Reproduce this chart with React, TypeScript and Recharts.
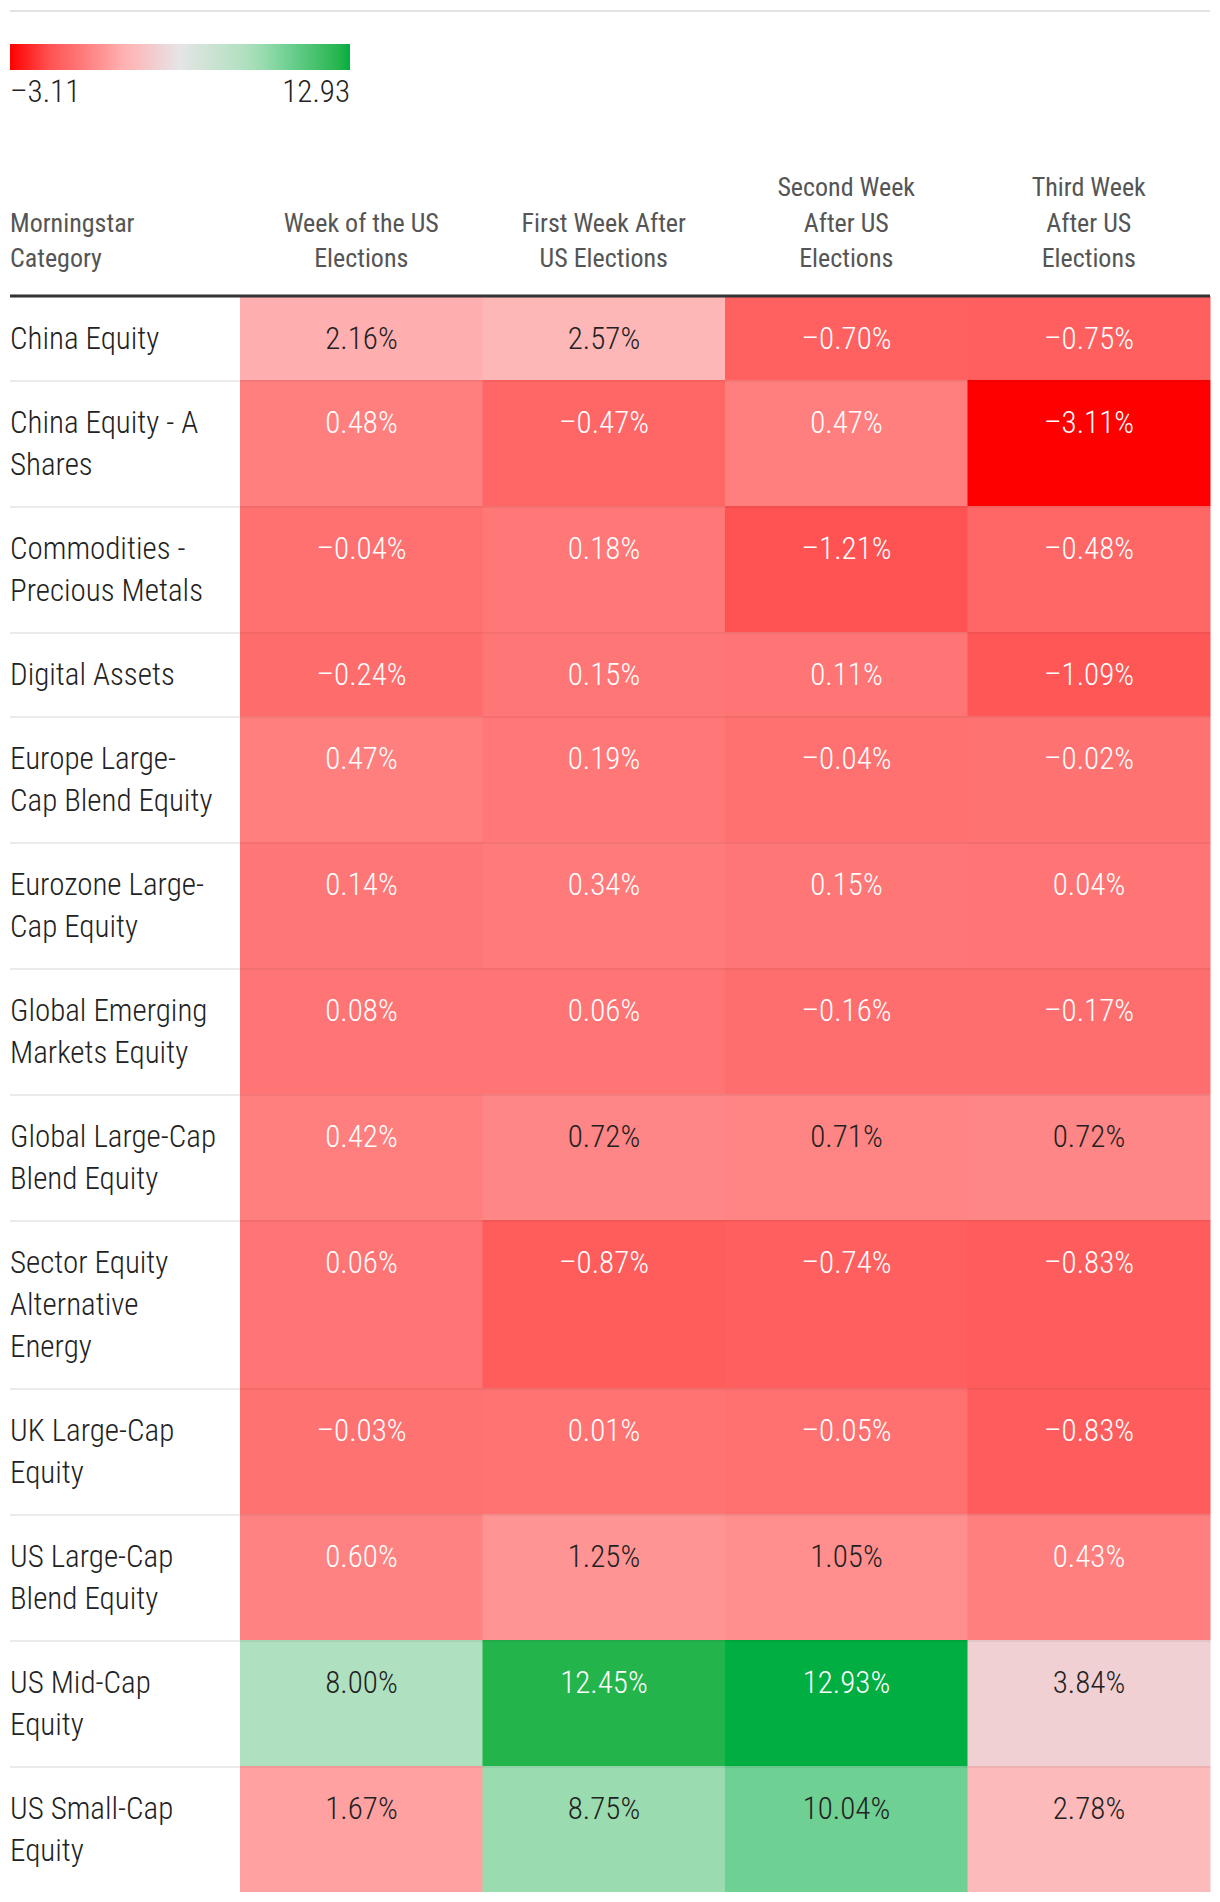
import React from "react";
import { BarChart, Bar, XAxis, YAxis } from "recharts";

// row labels, already wrapped the way the table shows them
const rowLabels: string[][] = [
  ["China Equity"],
  ["China Equity - A", "Shares"],
  ["Commodities -", "Precious Metals"],
  ["Digital Assets"],
  ["Europe Large-", "Cap Blend Equity"],
  ["Eurozone Large-", "Cap Equity"],
  ["Global Emerging", "Markets Equity"],
  ["Global Large-Cap", "Blend Equity"],
  ["Sector Equity", "Alternative", "Energy"],
  ["UK Large-Cap", "Equity"],
  ["US Large-Cap", "Blend Equity"],
  ["US Mid-Cap", "Equity"],
  ["US Small-Cap", "Equity"],
];

const categoryHeader = ["Morningstar", "Category"];
const columnHeaders: string[][] = [
  ["Week of the US", "Elections"],
  ["First Week After", "US Elections"],
  ["Second Week", "After US", "Elections"],
  ["Third Week", "After US", "Elections"],
];

// returns in %, one value per row
const weekOf = [2.16, 0.48, -0.04, -0.24, 0.47, 0.14, 0.08, 0.42, 0.06, -0.03, 0.6, 8.0, 1.67];
const firstWeek = [2.57, -0.47, 0.18, 0.15, 0.19, 0.34, 0.06, 0.72, -0.87, 0.01, 1.25, 12.45, 8.75];
const secondWeek = [-0.7, 0.47, -1.21, 0.11, -0.04, 0.15, -0.16, 0.71, -0.74, -0.05, 1.05, 12.93, 10.04];
const thirdWeek = [-0.75, -3.11, -0.48, -1.09, -0.02, 0.04, -0.17, 0.72, -0.83, -0.83, 0.43, 3.84, 2.78];

const columnValues = [weekOf, firstWeek, secondWeek, thirdWeek];

const FONT = "'Roboto Condensed', 'Liberation Sans Narrow', 'DejaVu Sans Condensed', 'Arial Narrow', sans-serif";
const LINE = 42;
const TEXT = "#222222";

// red -> grey -> green scale, position t in [0, 1]
const colorStops: [number, number[]][] = [
  [0, [255, 0, 0]],
  [0.118, [255, 83, 83]],
  [0.2, [255, 117, 117]],
  [0.27, [255, 147, 147]],
  [0.33, [255, 176, 176]],
  [0.37, [252, 187, 188]],
  [0.433, [240, 208, 211]],
  [0.5, [229, 229, 229]],
  [0.69, [176, 224, 192]],
  [0.74, [154, 220, 176]],
  [0.82, [110, 208, 146]],
  [0.97, [36, 180, 76]],
  [1, [0, 174, 65]],
];

const allValues = columnValues.flat();
const vMin = Math.min(...allValues);
const vMax = Math.max(...allValues);

function rgbAt(t: number): number[] {
  for (let i = 1; i < colorStops.length; i++) {
    const [t1, c1] = colorStops[i];
    const [t0, c0] = colorStops[i - 1];
    if (t <= t1) {
      const f = (t - t0) / (t1 - t0);
      return c0.map((c, k) => Math.round(c + (c1[k] - c) * f));
    }
  }
  return colorStops[colorStops.length - 1][1];
}

const toHex = (c: number[]) => "#" + c.map((x) => x.toString(16).padStart(2, "0")).join("");

function luminance(c: number[]) {
  const lin = c.map((x) => {
    const s = x / 255;
    return s <= 0.04045 ? s / 12.92 : Math.pow((s + 0.055) / 1.055, 2.4);
  });
  return 0.2126 * lin[0] + 0.7152 * lin[1] + 0.0722 * lin[2];
}

const fmt = (v: number) => (v < 0 ? "\u2013" : "") + Math.abs(v).toFixed(2);

// row heights follow the number of label lines
const rowUnits = rowLabels.map((l) => l.length + 1);
const rowStarts = rowUnits.map((_, i) => rowUnits.slice(0, i).reduce((a, b) => a + b, 0));
const totalUnits = rowUnits.reduce((a, b) => a + b, 0);

const tableData = columnHeaders.map((h) => {
  const o: Record<string, any> = { name: h.join(" ") };
  rowUnits.forEach((u, r) => (o["r" + r] = u));
  return o;
});

const cellShape = (r: number) => (p: any) => {
  const v = columnValues[p.index][r];
  const rgb = rgbAt((v - vMin) / (vMax - vMin));
  const top = Math.min(p.y, p.y + p.height);
  const h = Math.abs(p.height);
  const left = Math.min(p.x, p.x + p.width);
  const w = Math.abs(p.width);
  return (
    <g>
      <rect x={left} y={top} width={w} height={h} fill={toHex(rgb)} />
      {r > 0 && <rect x={left} y={top} width={w} height={2} fill="rgba(0,0,0,0.05)" />}
      <text
        x={left + w / 2}
        y={top + 53}
        textAnchor="middle"
        fontFamily={FONT}
        fontSize={31}
        fontWeight={300}
        fill={luminance(rgb) < 0.394 ? "#ffffff" : TEXT}
      >
        {fmt(v)}%
      </text>
    </g>
  );
};

const HeaderTick = (p: any) => {
  const lines = columnHeaders[p.index] || [];
  return (
    <g>
      {lines.map((s, i) => (
        <text
          key={i}
          x={p.x}
          y={p.y - 29 - (lines.length - 1 - i) * 35.5}
          textAnchor="middle"
          fontFamily={FONT}
          fontSize={26}
          fill="#555555"
        >
          {s}
        </text>
      ))}
    </g>
  );
};

const RowTick = (p: any) => {
  const i = rowStarts.indexOf(p.payload.value);
  const left = p.x - 230;
  const lines = rowLabels[i] || [];
  return (
    <g>
      {i === 0 ? (
        <>
          <line x1={left} x2={p.x} y1={p.y} y2={p.y} stroke="#333333" strokeWidth={3} />
          {categoryHeader.map((s, k) => (
            <text
              key={k}
              x={left}
              y={p.y - 29 - (categoryHeader.length - 1 - k) * 35.5}
              fontFamily={FONT}
              fontSize={26}
              fill="#555555"
            >
              {s}
            </text>
          ))}
        </>
      ) : (
        <line x1={left} x2={p.x} y1={p.y + 1} y2={p.y + 1} stroke="#ebebeb" strokeWidth={2} />
      )}
      {lines.map((s, k) => (
        <text
          key={k}
          x={left}
          y={p.y + 53 + k * LINE}
          fontFamily={FONT}
          fontSize={31}
          fontWeight={300}
          fill={TEXT}
        >
          {s}
        </text>
      ))}
    </g>
  );
};

function ScaleLegend() {
  return (
    <svg width={1220} height={120} style={{ position: "absolute", left: 0, top: 0 }}>
      <defs>
        <linearGradient id="heatScale" x1="0" y1="0" x2="1" y2="0">
          {colorStops.map(([t, c], i) => (
            <stop key={i} offset={t} stopColor={toHex(c)} />
          ))}
        </linearGradient>
      </defs>
      <line x1={10} x2={1210} y1={11} y2={11} stroke="#e3e3e3" strokeWidth={2} />
      <rect x={10} y={44} width={340} height={26} fill="url(#heatScale)" />
      <text x={10} y={102} fontFamily={FONT} fontSize={31} fontWeight={300} fill={TEXT}>
        {fmt(vMin)}
      </text>
      <text x={350} y={102} textAnchor="end" fontFamily={FONT} fontSize={31} fontWeight={300} fill={TEXT}>
        {fmt(vMax)}
      </text>
    </svg>
  );
}

export default function App() {
  return (
    <div style={{ position: "relative", width: 1220, height: 1902, margin: -8, background: "#fff" }}>
      <BarChart
        width={1220}
        height={1902}
        data={tableData}
        margin={{ top: 256, right: 10, bottom: 10, left: 10 }}
        barCategoryGap={0}
        barGap={0}
      >
        <XAxis
          dataKey="name"
          orientation="top"
          height={40}
          axisLine={{ stroke: "#333333", strokeWidth: 3 }}
          tickLine={false}
          tickSize={0}
          tickMargin={0}
          interval={0}
          tick={<HeaderTick />}
        />
        <YAxis
          type="number"
          domain={[0, totalUnits]}
          reversed
          ticks={rowStarts}
          interval={0}
          width={230}
          axisLine={false}
          tickLine={false}
          tickSize={0}
          tickMargin={0}
          tick={<RowTick />}
        />
        {rowLabels.map((_, r) => (
          <Bar
            key={r}
            dataKey={"r" + r}
            stackId="rows"
            shape={cellShape(r)}
            isAnimationActive={false}
          />
        ))}
      </BarChart>
      <ScaleLegend />
    </div>
  );
}
